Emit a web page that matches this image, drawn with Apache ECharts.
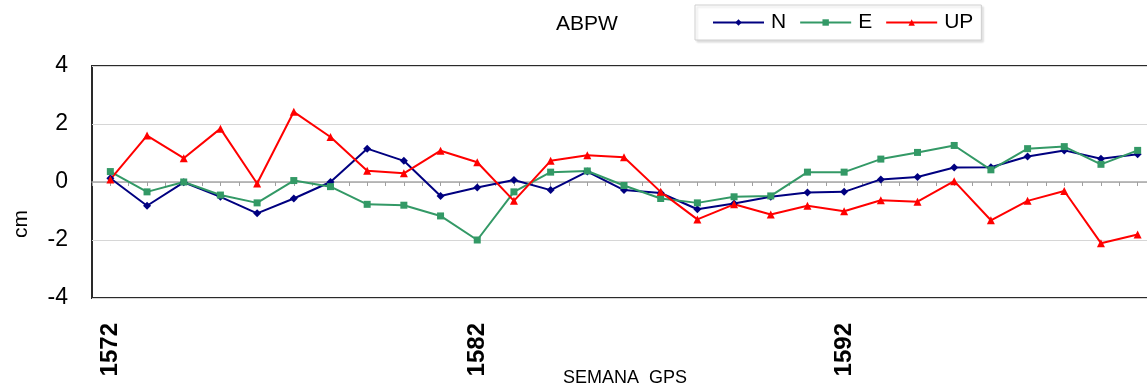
<!DOCTYPE html>
<html>
<head>
<meta charset="utf-8">
<script src="https://cdn.jsdelivr.net/npm/echarts@6/dist/echarts.min.js"></script>
<style>
html,body{margin:0;padding:0;background:#fff;}
#c{width:1147px;height:387px;}
</style>
</head>
<body>
<div id="c"></div>
<script>
const weeks = [1572,1573,1574,1575,1576,1577,1578,1579,1580,1581,1582,1583,1584,1585,1586,1587,1588,1589,1590,1591,1592,1593,1594,1595,1596,1597,1598,1599,1600];
const nVals = [0.13,-0.82,-0.01,-0.51,-1.08,-0.57,0.0,1.15,0.73,-0.48,-0.19,0.07,-0.28,0.36,-0.28,-0.38,-0.94,-0.74,-0.51,-0.36,-0.34,0.09,0.17,0.50,0.51,0.88,1.09,0.80,0.96];
const eVals = [0.36,-0.34,0.0,-0.45,-0.72,0.05,-0.16,-0.77,-0.80,-1.17,-2.00,-0.34,0.34,0.38,-0.12,-0.57,-0.72,-0.51,-0.48,0.34,0.34,0.79,1.02,1.26,0.42,1.15,1.22,0.61,1.09];
const upVals = [0.09,1.60,0.82,1.84,-0.05,2.42,1.55,0.39,0.30,1.08,0.68,-0.65,0.73,0.92,0.85,-0.34,-1.29,-0.77,-1.12,-0.82,-1.01,-0.63,-0.68,0.03,-1.32,-0.65,-0.31,-2.11,-1.81];
const xTickLabels = [1572,1582,1592];
const yTicks = [-4,-2,0,2,4];
const seriesNames = ['N','E','UP'];

const FONT = "'Liberation Sans', Arial, sans-serif";
const pair = vals => weeks.map((w,i)=>[w, vals[i]]);

const chart = echarts.init(document.getElementById('c'), null, {renderer:'canvas'});
chart.setOption({
  animation:false,
  backgroundColor:'#ffffff',
  textStyle:{fontFamily:FONT},
  title:{
    text:'ABPW', left:556, top:14, padding:0,
    textStyle:{fontFamily:FONT,fontSize:21,fontWeight:'normal',color:'#000'}
  },
  legend:{
    data:seriesNames,
    left:695, top:5,
    padding:[7,8,7,17],
    itemWidth:51, itemHeight:8, itemGap:13,
    backgroundColor:'#fff',
    borderColor:'#cfcfcf', borderWidth:1,
    shadowColor:'rgba(0,0,0,0.12)', shadowBlur:2, shadowOffsetX:2, shadowOffsetY:2,
    textStyle:{fontFamily:FONT,fontSize:21,color:'#000',padding:[0,0,0,2]}
  },
  grid:{
    left:92, top:66, width:1064, height:232,
    show:true, borderColor:'#2a2a2a', borderWidth:2,
    containLabel:false,
    outerBoundsMode:'none'
  },
  xAxis:[{
    type:'value', min:1571.5, max:1600.5, position:'bottom',
    axisLine:{show:false,onZero:false},
    axisTick:{show:false},
    splitLine:{show:false},
    axisLabel:{
      customValues:xTickLabels, rotate:90, margin:25,
      fontFamily:FONT, fontSize:24, fontWeight:'bold', color:'#000',
      formatter:v=>String(v)
    }
  },{
    type:'value', min:1571.5, max:1600.5, interval:0.5, position:'bottom',
    axisLine:{show:true,onZero:true,lineStyle:{color:'#a8a8a8',width:1.5}},
    axisTick:{show:true,length:4,lineStyle:{color:'#a0a0a0',width:1}},
    axisLabel:{show:false},
    splitLine:{show:false}
  }],
  yAxis:{
    type:'value', min:-4, max:4, interval:2,
    axisLine:{show:false},
    axisTick:{show:false},
    axisLabel:{
      customValues:yTicks, margin:24,
      fontFamily:FONT,fontSize:23,color:'#000'
    },
    splitLine:{show:true,lineStyle:{color:'#d6d6d6',width:1}}
  },
  graphic:[{
    type:'text', x:21, y:224, rotation:Math.PI/2,
    style:{text:'cm', font:'21px '+FONT, fill:'#000', align:'center', verticalAlign:'middle'}
  },{
    type:'text', x:625, y:378,
    style:{text:'SEMANA  GPS', font:'18px '+FONT, fill:'#000', align:'center', verticalAlign:'middle'}
  }],
  series:[{
    name:'N', type:'line', xAxisIndex:0, data:pair(nVals),
    symbol:'diamond', symbolSize:8,
    lineStyle:{color:'#000080',width:2},
    itemStyle:{color:'#000080'}
  },{
    name:'E', type:'line', xAxisIndex:0, data:pair(eVals),
    symbol:'rect', symbolSize:7,
    lineStyle:{color:'#339966',width:2},
    itemStyle:{color:'#339966'}
  },{
    name:'UP', type:'line', xAxisIndex:0, data:pair(upVals),
    symbol:'triangle', symbolSize:8,
    lineStyle:{color:'#ff0000',width:2},
    itemStyle:{color:'#ff0000'}
  }]
});
</script>
</body>
</html>
